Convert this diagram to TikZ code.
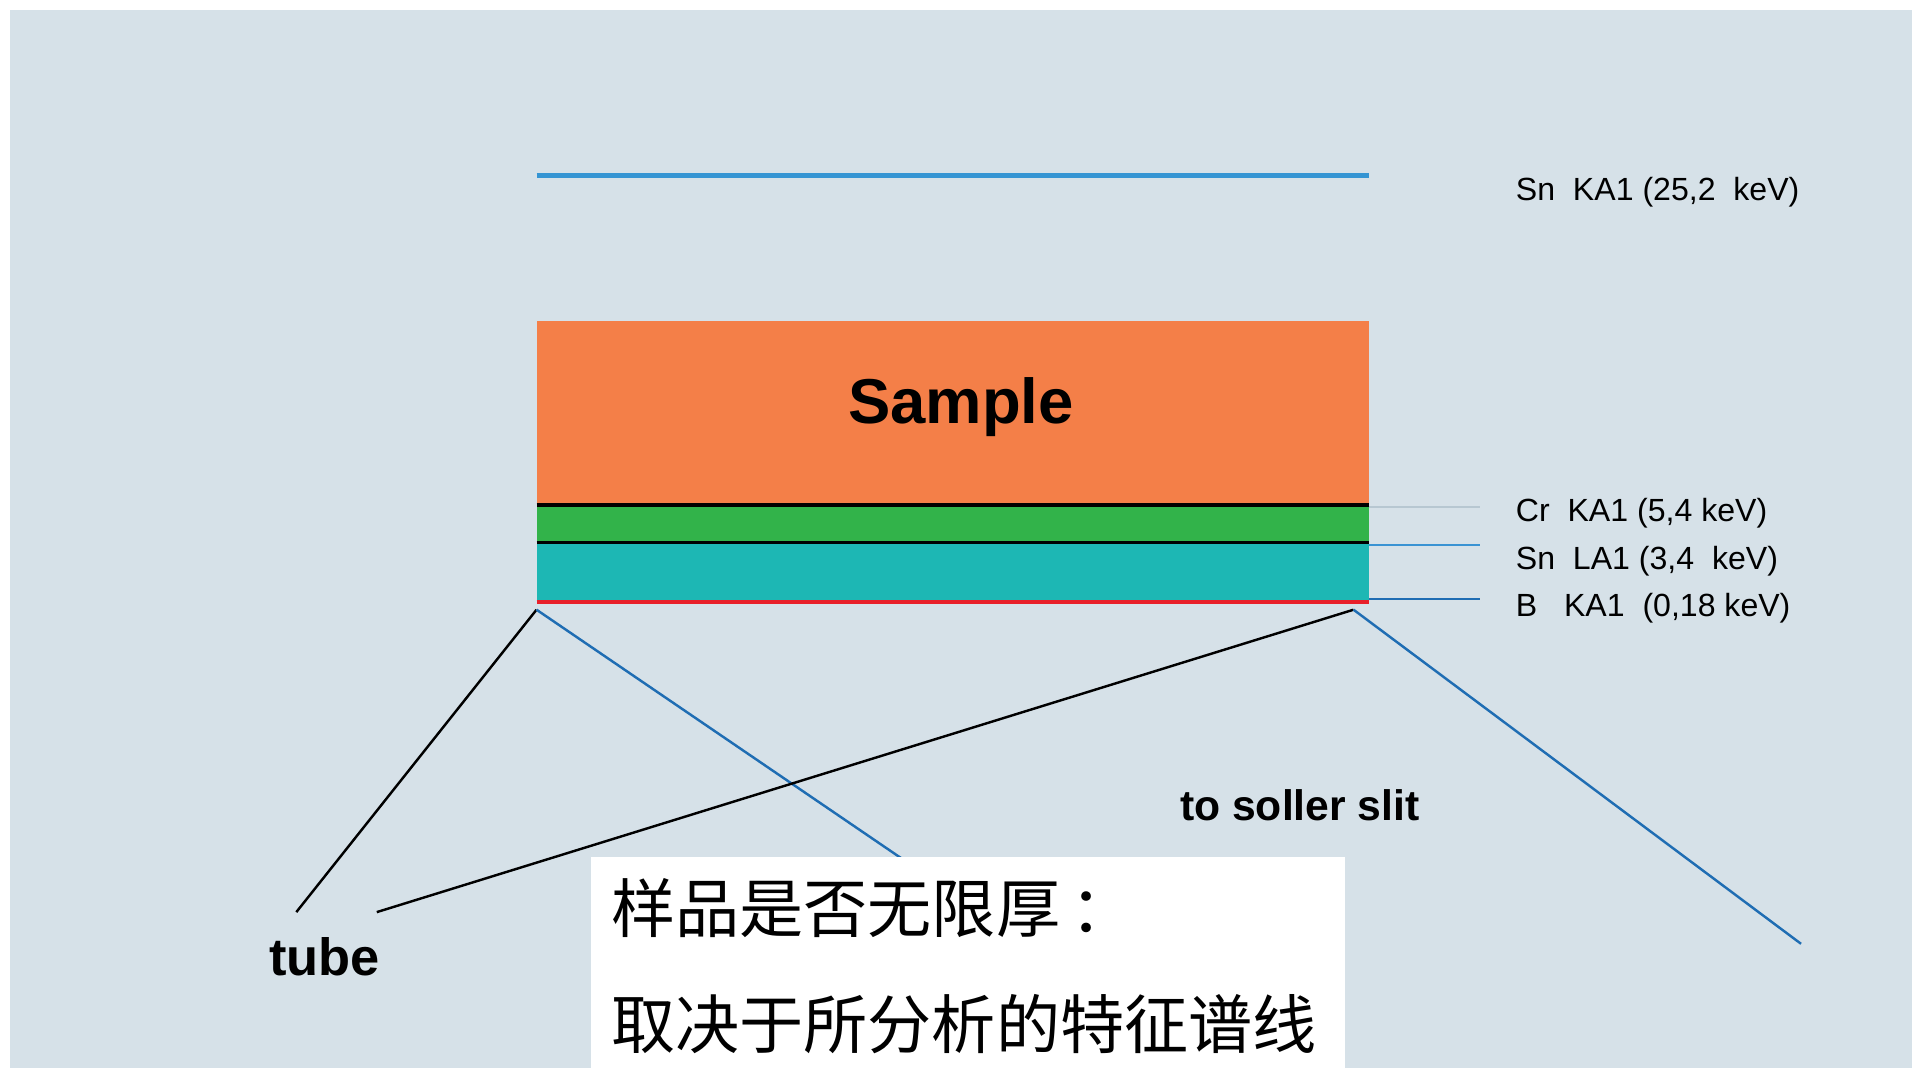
\documentclass[tikz,border=0pt]{standalone}
\usepackage{fontspec}
\setmainfont{Liberation Sans}
\newfontfamily\cjk{Noto Sans CJK SC}
\definecolor{bgc}{HTML}{D6E1E8}
\definecolor{topblue}{HTML}{3595D3}
\definecolor{orangec}{HTML}{F47F48}
\definecolor{greenc}{HTML}{32B34A}
\definecolor{tealc}{HTML}{1DB7B4}
\definecolor{redc}{HTML}{E8202A}
\definecolor{greyl}{HTML}{B7C7D1}
\definecolor{midblue}{HTML}{3A93D3}
\definecolor{darkblue}{HTML}{1F6DB3}
\tikzset{
  lbl/.style={anchor=west, inner sep=0pt, font=\fontsize{26.3}{30}\selectfont},
  bigbold/.style={inner sep=0pt, font=\bfseries\fontsize{#1}{#1}\selectfont},
  ray/.style={line width=2pt},
  cjktext/.style={anchor=west, inner sep=0pt, font=\cjk\fontsize{52.6}{60}\selectfont},
}
\begin{document}
\begin{tikzpicture}[x=1pt,y=-1pt]
\useasboundingbox (0,0) rectangle (1568,876);
\fill[white] (0,0) rectangle (1568,876);
\fill[bgc] (8,8) rectangle (1568,876);
% top Sn KA1 line
\draw[topblue, line width=4pt] (440,144) -- (1123,144);
% sample layers
\fill[orangec] (440,263) rectangle (1123,414);
\fill[greenc] (440,414) rectangle (1123,445);
\fill[tealc] (440,445) rectangle (1123,494);
\draw[redc, line width=3pt] (440,493.5) -- (1123,493.5);
\draw[black, line width=3pt] (440,414) -- (1123,414);
\draw[black, line width=3pt] (440,445) -- (1123,445);
\node[bigbold=52] (sample) at (788,334) {Sample};
% level lines
\draw[greyl, line width=1.6pt] (1123,415.5) -- (1214,415.5);
\draw[midblue, line width=1.6pt] (1123,447) -- (1214,447);
\draw[darkblue, line width=1.6pt] (1123,491) -- (1214,491);
% labels
\node[lbl] (snka) at (1243,158) {Sn\ \ KA1 (25,2\ \ keV)};
\node[lbl] (crka) at (1243,421) {Cr\ \ KA1 (5,4 keV)};
\node[lbl] (snla) at (1243,460) {Sn\ \ LA1 (3,4\ \ keV)};
\node[lbl] (bka) at (1243,499) {B\ \ \ KA1\ \ (0,18 keV)};
% rays
\coordinate (apexL) at (440,500);
\coordinate (apexR) at (1110,500);
\coordinate (tubeA) at (243,748);
\coordinate (tubeB) at (309,748);
\coordinate (detL) at (870,793);
\coordinate (detR) at (1477,774);
\draw[ray, black] (tubeA) -- (apexL);
\draw[ray, darkblue] (apexL) -- (detL);
\draw[ray, black] (tubeB) -- (apexR);
\draw[ray, darkblue] (apexR) -- (detR);
\node[bigbold=43] (tube) at (266,785) {tube};
\node[bigbold=35] (soller) at (1066,660) {to soller slit};
% white note box
\fill[white] (485,703) rectangle (1103,876);
\node[cjktext] (q1) at (501,745) {样品是否无限厚\,：};
\node[cjktext] (q2) at (501,840) {取决于所分析的特征谱线};
\end{tikzpicture}
\end{document}
